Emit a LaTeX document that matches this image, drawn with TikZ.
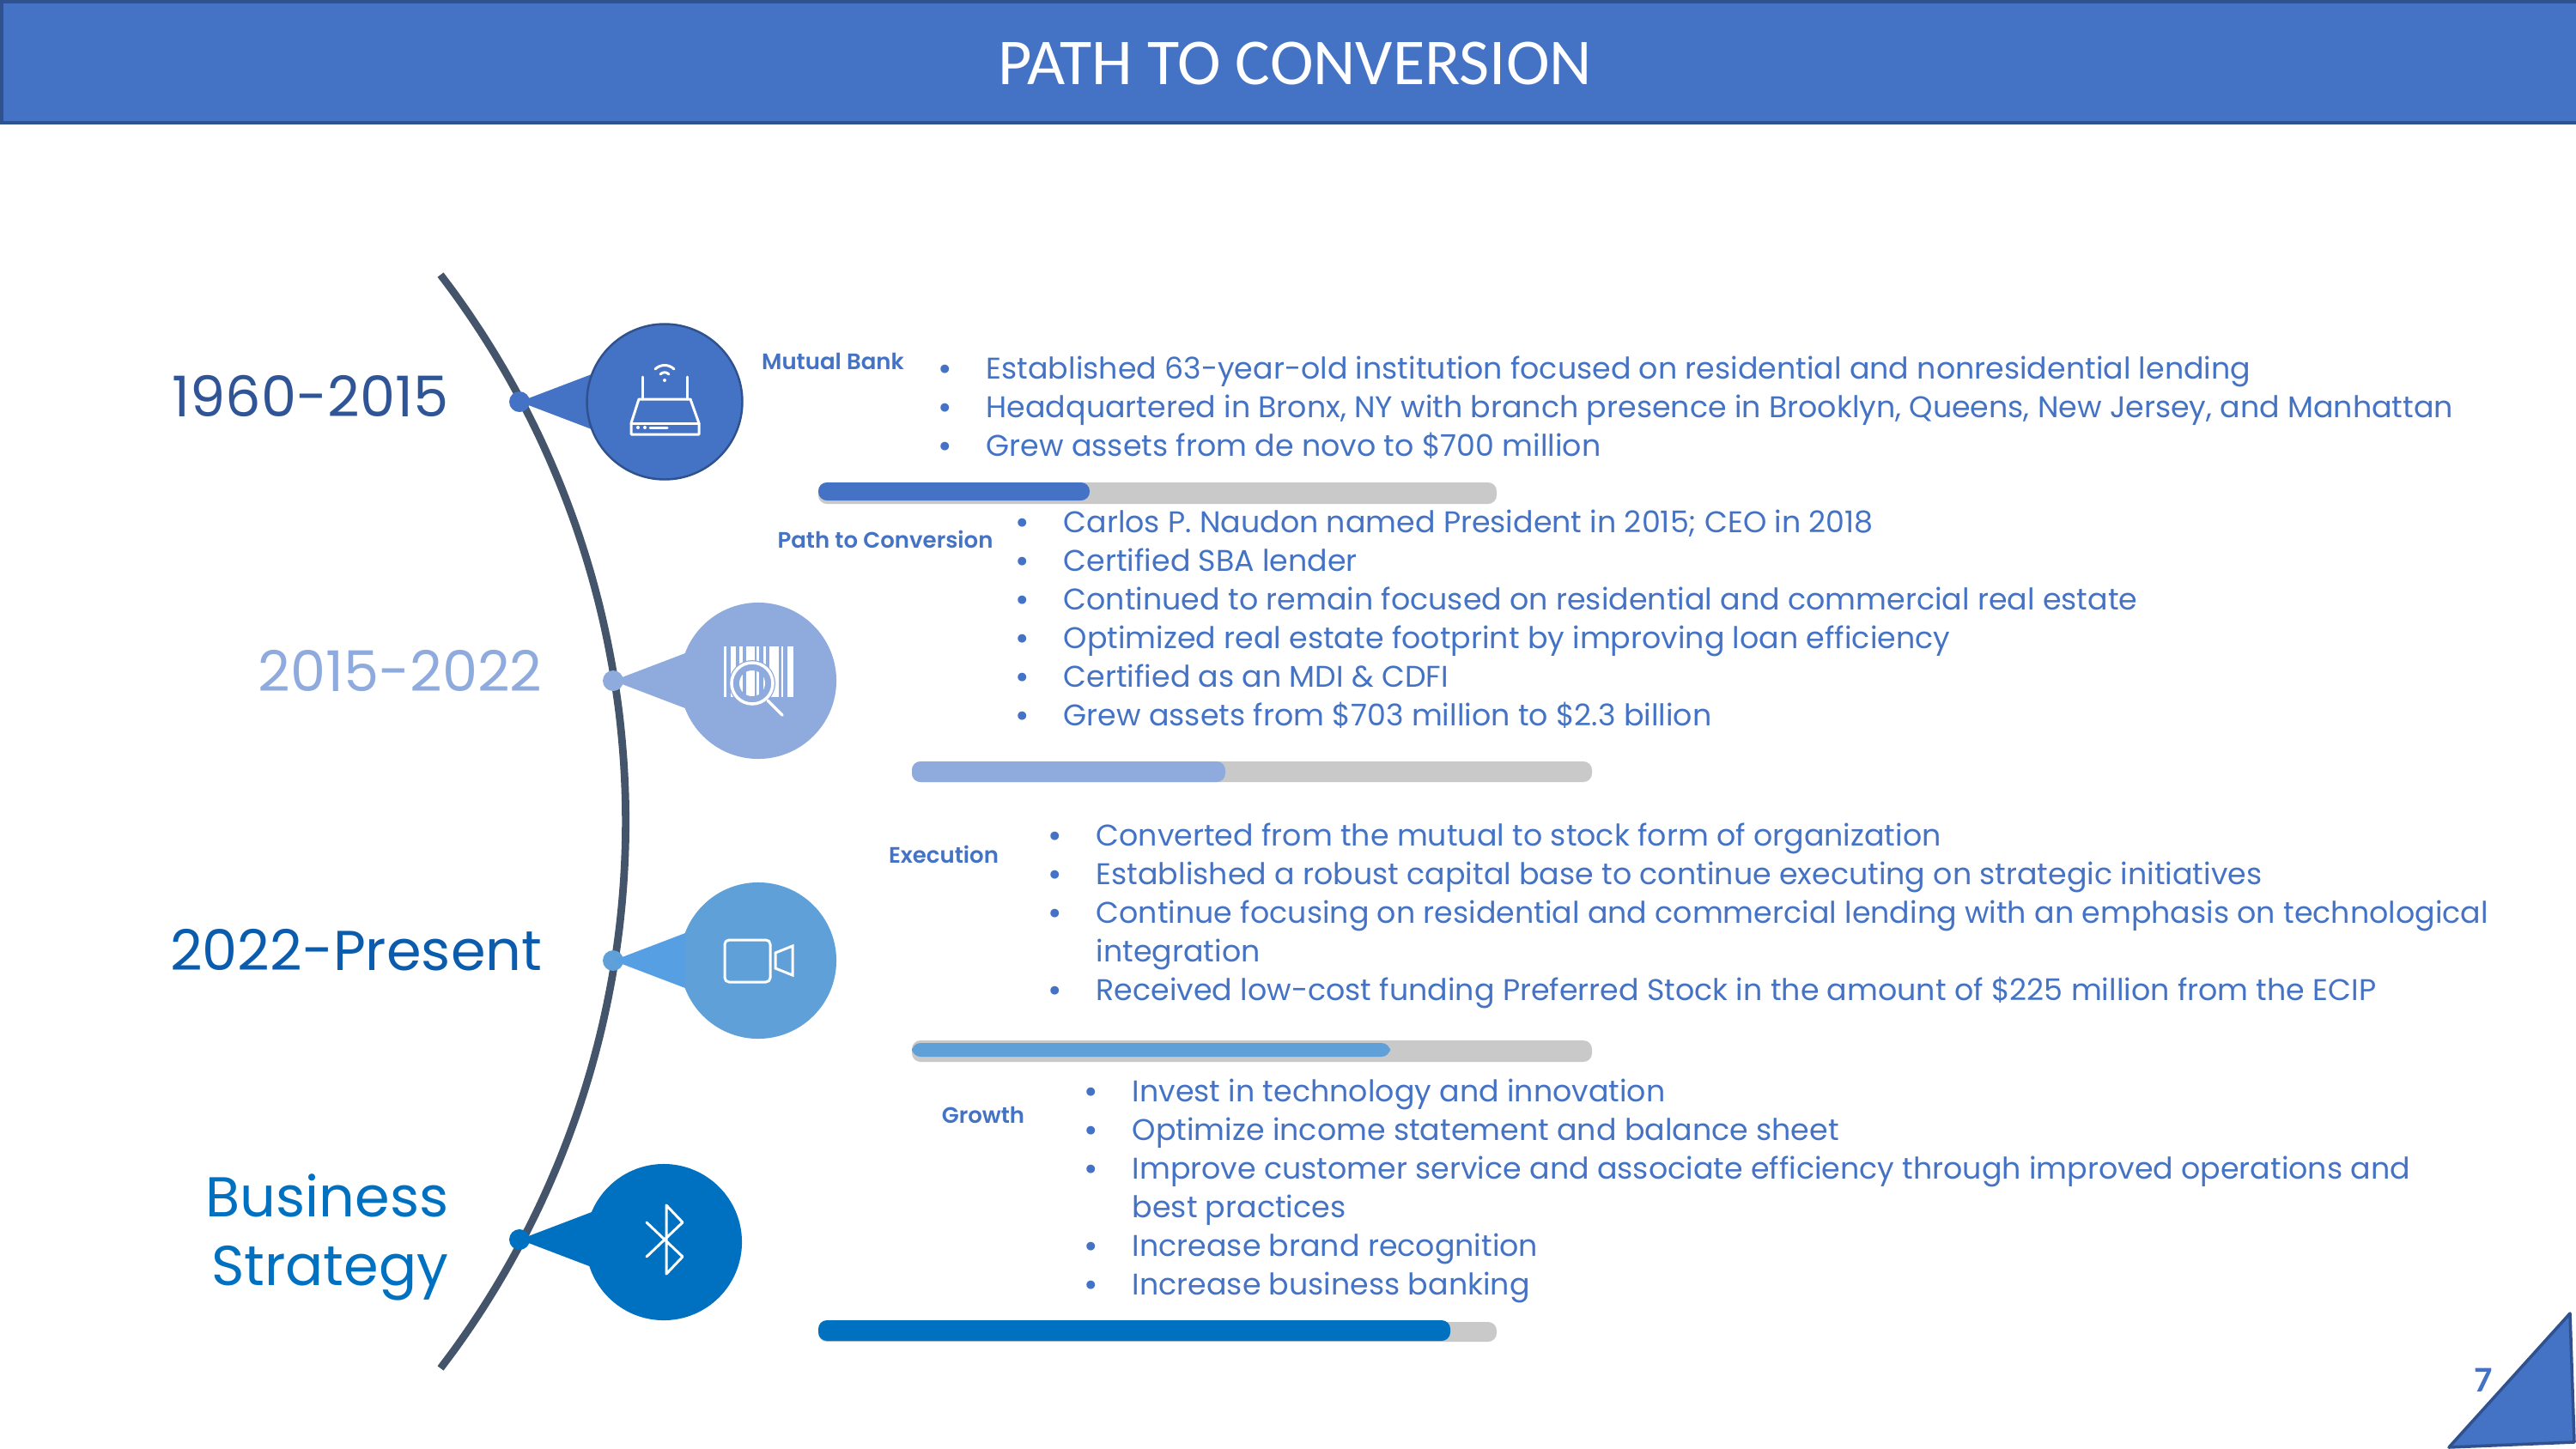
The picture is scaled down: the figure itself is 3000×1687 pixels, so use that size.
\documentclass[tikz,border=0pt]{standalone}
\usepackage{fontspec}
\usepackage{array}
\usetikzlibrary{calc}
\usetikzlibrary{positioning}
\setmainfont{Poppins}
\newfontfamily\titlefont{Carlito}
\newfontfamily\headfont{Poppins SemiBold}

\definecolor{hdrblue}{HTML}{4472C4}
\definecolor{hdredge}{HTML}{2F528F}
\definecolor{curveblue}{HTML}{44546A}
\definecolor{lightblue}{HTML}{8FAADC}
\definecolor{skyblue}{HTML}{5FA0D9}
\definecolor{tipblue}{HTML}{559FE2}
\definecolor{deepblue}{HTML}{0070C0}
\definecolor{yearblue}{HTML}{2F5597}
\definecolor{nowblue}{HTML}{0B5CAD}
\definecolor{bargrey}{HTML}{C9C9C9}

\newcommand\bodyfont{\fontsize{9.9pt}{12.8pt}\selectfont}
\newcommand\yearfont{\fontsize{18.6pt}{22.8pt}\selectfont}
\newcommand\li[1]{\raisebox{-0.12ex}{\scalebox{1.15}{\textbullet}} & #1\\}
\newenvironment{blist}{\begin{tabular}[t]{@{}p{0.56cm}@{}l@{}}}{\end{tabular}}

\tikzset{
  listnode/.style={anchor=base west,inner sep=0pt,text=hdrblue,font=\bodyfont},
  headnode/.style={inner sep=0pt,text=hdrblue,font=\headfont\fontsize{7.4pt}{9pt}\selectfont},
  yearnode/.style={inner sep=0pt,anchor=base east,font=\yearfont},
  bubble/.style={circle,inner sep=0pt,minimum size=1.82cm},
  pindot/.style={circle,inner sep=0pt,minimum size=0.24cm},
  icon/.style={draw=white,line width=0.85pt,line join=round,line cap=round},
  barback/.style={fill=bargrey,rounded corners=0.1cm},
  barfront/.style={rounded corners=0.1cm}
}

\begin{document}
\begin{tikzpicture}[x=0.01cm,y=-0.01cm]
\useasboundingbox (0,0) rectangle (3000,1687);

% header
\node[draw=hdredge,fill=hdrblue,line width=1.1pt,anchor=north west,inner sep=0pt,
  minimum width=30cm,minimum height=1.41cm] (header) at (0,0) {};
\node[text=white,inner sep=0pt,font=\titlefont\fontsize{21.7pt}{26pt}\selectfont] (title) at (1508,74) {PATH TO CONVERSION};

% the curve
\draw[curveblue,line width=2.5pt,domain=-37.4:37.4,samples=50,smooth]
  plot ({-320+1048.7*cos(\x)},{957+1048.7*sin(\x)});

% the four pins
\foreach \nm/\cx/\cy/\dx/\dy/\col/\tip in {
  a/774/468/605/468/hdrblue/hdrblue,
  b/883/793/714/793/lightblue/lightblue,
  c/883/1119/714/1119/skyblue/tipblue,
  d/773/1447/605/1444/deepblue/deepblue} {
  \node[pindot,fill=\col] (dot\nm) at (\dx,\dy) {};
  \node[bubble,fill=\col] (pin\nm) at (\cx,\cy) {};
  \fill[\tip] (dot\nm.center) -- ($(dot\nm.center)+(84,-32)$) -- ($(dot\nm.center)+(84,32)$) -- cycle;
}
\draw[hdredge,line width=0.7pt] (pina) circle (90.5);

% router
\begin{scope}[shift={(pina.center)}]
  \draw[icon] (-30,-3) -- (30,-3) -- (40,25) -- (40,38) -- (-39,38) -- (-39,25) -- cycle;
  \draw[icon] (-39,25) -- (40,25);
  \draw[icon] (-26,-3) -- (-26,-29);
  \draw[icon] (26,-3) -- (26,-29);
  \draw[icon] (-11,-38) .. controls (-5,-44) and (5,-44) .. (11,-38);
  \draw[icon] (-5,-32) .. controls (-2,-35) and (2,-35) .. (5,-32);
  \fill[white] (0,-25) circle (2);
  \fill[white] (-31,30) circle (2);
  \fill[white] (-23,30) circle (2);
  \draw[icon] (-17,30) -- (3,30);
\end{scope}

% barcode
\begin{scope}[shift={(pinb.center)}]
  \foreach \xa/\xb in {-40/-37,-32/-26,-22/-18,-14/-4,-2/1,6/9,13/24,27/29,34/41}
    \fill[white] (\xa,-40) rectangle (\xb,19);
  \fill[lightblue] (-7,3) circle (27);
  \begin{scope}
    \clip (-7,3) circle (15);
    \foreach \xa/\xb in {-22/-18,-14/-4,-2/1,6/9}
      \fill[white] (\xa,-40) rectangle (\xb,19);
  \end{scope}
  \draw[white,line width=1pt] (-7,3) circle (24);
  \draw[white,line width=1pt,line cap=round] (11,23) -- (28,40);
\end{scope}

% camera
\begin{scope}[shift={(pinc.center)}]
  \draw[icon,rounded corners=0.05cm] (-39,-24) rectangle (14,25);
  \draw[icon,line cap=butt,line join=miter] (20,-9) -- (40,-17) -- (40,17) -- (20,9) -- cycle;
\end{scope}

% bluetooth
\begin{scope}[shift={(pind.center)}]
  \draw[icon] (-20,-23) -- (22,17) -- (3,37) -- (3,-43) -- (22,-23) -- (-20,17);
\end{scope}

% year labels
\node[yearnode,text=yearblue] (yeara) at (523,485) {1960-2015};
\node[yearnode,text=lightblue] (yearb) at (632,805) {2015-2022};
\node[yearnode,text=nowblue] (yearc) at (632,1130) {2022-Present};
\node[yearnode,text=deepblue] (yeard) at (523,1417) {Business};
\node[yearnode,text=deepblue] (yeare) at (523,1497) {Strategy};

% small headings
\node[headnode] (heada) at (970,421) {Mutual Bank};
\node[headnode] (headb) at (1031,628) {Path to Conversion};
\node[headnode] (headc) at (1099,995) {Execution};
\node[headnode] (headd) at (1145,1299) {Growth};

% lists
\node[listnode] (lista) at (1092,441) {\begin{blist}
  \li{Established 63-year-old institution focused on residential and nonresidential lending}
  \li{Headquartered in Bronx, NY with branch presence in Brooklyn, Queens, New Jersey, and Manhattan}
  \li{Grew assets from de novo to \$700 million}
\end{blist}};
\node[listnode] (listb) at (1182,620) {\begin{blist}
  \li{Carlos P. Naudon named President in 2015; CEO in 2018}
  \li{Certified SBA lender}
  \li{Continued to remain focused on residential and commercial real estate}
  \li{Optimized real estate footprint by improving loan efficiency}
  \li{Certified as an MDI \& CDFI}
  \li{Grew assets from \$703 million to \$2.3 billion}
\end{blist}};
\node[listnode] (listc) at (1220,985) {\begin{blist}
  \li{Converted from the mutual to stock form of organization}
  \li{Established a robust capital base to continue executing on strategic initiatives}
  \li{Continue focusing on residential and commercial lending with an emphasis on technological}
  & integration\\
  \li{Received low-cost funding Preferred Stock in the amount of \$225 million from the ECIP}
\end{blist}};
\node[listnode] (listd) at (1262,1283) {\begin{blist}
  \li{Invest in technology and innovation}
  \li{Optimize income statement and balance sheet}
  \li{Improve customer service and associate efficiency through improved operations and}
  & best practices\\
  \li{Increase brand recognition}
  \li{Increase business banking}
\end{blist}};

% progress bars
\fill[barback] (953,562) rectangle (1743,587);
\fill[barfront,hdrblue] (953,562) rectangle (1269,583);
\fill[barback] (1062,887) rectangle (1854,911);
\fill[barfront,lightblue] (1062,887) rectangle (1427,911);
\fill[barback] (1062,1212) rectangle (1854,1237);
\fill[barfront,skyblue] (1062,1215) rectangle (1619,1231);
\fill[barback] (953,1540) rectangle (1743,1563);
\fill[barfront,deepblue] (953,1538) rectangle (1689,1562);

% page corner
\draw[draw=hdredge,fill=hdrblue,line width=1pt,line join=round] (2993,1530) -- (2852,1686) -- (2998,1680) -- cycle;
\node[text=hdrblue,inner sep=0pt,font=\titlefont\fontsize{12pt}{14pt}\selectfont\bfseries] (pageno) at (2892,1608) {7};
\end{tikzpicture}
\end{document}
